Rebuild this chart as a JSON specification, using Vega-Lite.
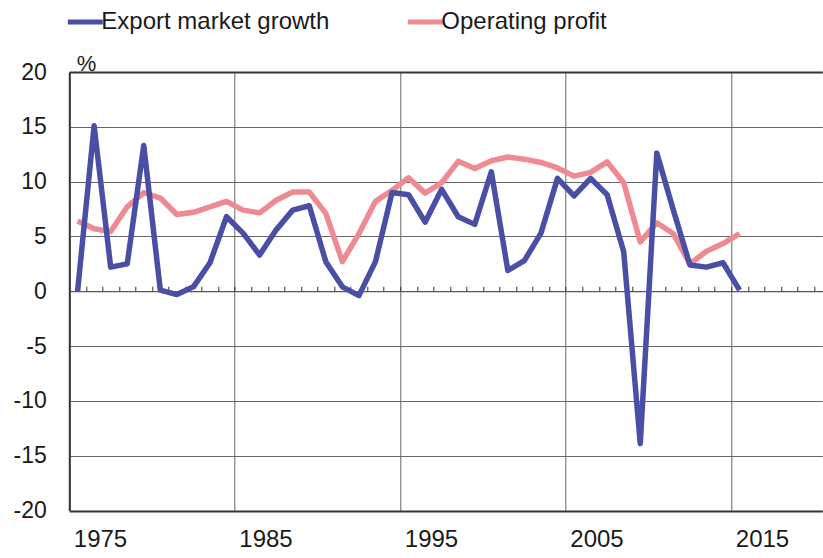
{
  "$schema": "https://vega.github.io/schema/vega-lite/v6.json",
  "width": 753,
  "height": 438.5,
  "autosize": "none",
  "padding": {"left": 69.3, "top": 72, "right": 0.7, "bottom": 47.5},
  "background": "white",
  "config": {"view": {"stroke": null}, "font": "Liberation Sans"},
  "data": {"values": [
    {"year":1974,"series":"Export market growth","value":0.0},
    {"year":1975,"series":"Export market growth","value":15.1},
    {"year":1976,"series":"Export market growth","value":2.2},
    {"year":1977,"series":"Export market growth","value":2.5},
    {"year":1978,"series":"Export market growth","value":13.3},
    {"year":1979,"series":"Export market growth","value":0.1},
    {"year":1980,"series":"Export market growth","value":-0.3},
    {"year":1981,"series":"Export market growth","value":0.4},
    {"year":1982,"series":"Export market growth","value":2.6},
    {"year":1983,"series":"Export market growth","value":6.8},
    {"year":1984,"series":"Export market growth","value":5.3},
    {"year":1985,"series":"Export market growth","value":3.3},
    {"year":1986,"series":"Export market growth","value":5.6},
    {"year":1987,"series":"Export market growth","value":7.4},
    {"year":1988,"series":"Export market growth","value":7.8},
    {"year":1989,"series":"Export market growth","value":2.7},
    {"year":1990,"series":"Export market growth","value":0.4},
    {"year":1991,"series":"Export market growth","value":-0.4},
    {"year":1992,"series":"Export market growth","value":2.7},
    {"year":1993,"series":"Export market growth","value":9.0},
    {"year":1994,"series":"Export market growth","value":8.8},
    {"year":1995,"series":"Export market growth","value":6.3},
    {"year":1996,"series":"Export market growth","value":9.3},
    {"year":1997,"series":"Export market growth","value":6.8},
    {"year":1998,"series":"Export market growth","value":6.1},
    {"year":1999,"series":"Export market growth","value":10.9},
    {"year":2000,"series":"Export market growth","value":1.9},
    {"year":2001,"series":"Export market growth","value":2.8},
    {"year":2002,"series":"Export market growth","value":5.3},
    {"year":2003,"series":"Export market growth","value":10.3},
    {"year":2004,"series":"Export market growth","value":8.7},
    {"year":2005,"series":"Export market growth","value":10.3},
    {"year":2006,"series":"Export market growth","value":8.8},
    {"year":2007,"series":"Export market growth","value":3.6},
    {"year":2008,"series":"Export market growth","value":-13.9},
    {"year":2009,"series":"Export market growth","value":12.6},
    {"year":2010,"series":"Export market growth","value":7.4},
    {"year":2011,"series":"Export market growth","value":2.4},
    {"year":2012,"series":"Export market growth","value":2.2},
    {"year":2013,"series":"Export market growth","value":2.6},
    {"year":2014,"series":"Export market growth","value":0.1},
    {"year":1974,"series":"Operating profit","value":6.4},
    {"year":1975,"series":"Operating profit","value":5.7},
    {"year":1976,"series":"Operating profit","value":5.45},
    {"year":1977,"series":"Operating profit","value":7.7},
    {"year":1978,"series":"Operating profit","value":9.0},
    {"year":1979,"series":"Operating profit","value":8.5},
    {"year":1980,"series":"Operating profit","value":7.0},
    {"year":1981,"series":"Operating profit","value":7.2},
    {"year":1982,"series":"Operating profit","value":7.7},
    {"year":1983,"series":"Operating profit","value":8.2},
    {"year":1984,"series":"Operating profit","value":7.4},
    {"year":1985,"series":"Operating profit","value":7.15},
    {"year":1986,"series":"Operating profit","value":8.3},
    {"year":1987,"series":"Operating profit","value":9.05},
    {"year":1988,"series":"Operating profit","value":9.05},
    {"year":1989,"series":"Operating profit","value":7.1},
    {"year":1990,"series":"Operating profit","value":2.7},
    {"year":1991,"series":"Operating profit","value":5.25},
    {"year":1992,"series":"Operating profit","value":8.2},
    {"year":1993,"series":"Operating profit","value":9.2},
    {"year":1994,"series":"Operating profit","value":10.35},
    {"year":1995,"series":"Operating profit","value":8.95},
    {"year":1996,"series":"Operating profit","value":9.9},
    {"year":1997,"series":"Operating profit","value":11.85},
    {"year":1998,"series":"Operating profit","value":11.2},
    {"year":1999,"series":"Operating profit","value":11.9},
    {"year":2000,"series":"Operating profit","value":12.25},
    {"year":2001,"series":"Operating profit","value":12.05},
    {"year":2002,"series":"Operating profit","value":11.75},
    {"year":2003,"series":"Operating profit","value":11.25},
    {"year":2004,"series":"Operating profit","value":10.5},
    {"year":2005,"series":"Operating profit","value":10.85},
    {"year":2006,"series":"Operating profit","value":11.8},
    {"year":2007,"series":"Operating profit","value":9.9},
    {"year":2008,"series":"Operating profit","value":4.5},
    {"year":2009,"series":"Operating profit","value":6.25},
    {"year":2010,"series":"Operating profit","value":5.25},
    {"year":2011,"series":"Operating profit","value":2.5},
    {"year":2012,"series":"Operating profit","value":3.65},
    {"year":2013,"series":"Operating profit","value":4.35},
    {"year":2014,"series":"Operating profit","value":5.25}
  ]},
  "encoding": {
    "y": {
      "field": "value", "type": "quantitative",
      "scale": {"domain": [-20, 20], "nice": false, "zero": false},
      "axis": {
        "values": [-20, -15, -10, -5, 0, 5, 10, 15, 20],
        "labelExpr": "'' + datum.value",
        "grid": true,
        "gridColor": {"condition": {"test": "abs(datum.value) == 20", "value": "#333333"}, "value": "#666666"},
        "gridWidth": {"condition": {"test": "abs(datum.value) == 20", "value": 2}, "value": 1},
        "domain": true, "domainColor": "#333333", "domainWidth": 2,
        "ticks": false, "tickSize": 0,
        "labelPadding": 23, "labelFontSize": 23, "labelColor": "#1a1a1a",
        "title": "%", "titleAngle": 0, "titleAlign": "left", "titleBaseline": "alphabetic",
        "titleX": 7, "titleY": -2, "titleFontSize": 22, "titleFontWeight": "normal", "titleColor": "#1a1a1a"
      }
    },
    "color": {
      "field": "series", "type": "nominal",
      "scale": {"domain": ["Export market growth", "Operating profit"], "range": ["#4a4fa6", "#ef8a92"]},
      "legend": {
        "orient": "none", "legendX": -4, "legendY": -70, "direction": "horizontal",
        "title": null, "symbolType": "stroke", "symbolSize": 1225, "symbolStrokeWidth": 5,
        "labelFontSize": 24, "labelOffset": -4, "columnPadding": 67, "padding": 0,
        "labelLimit": 0, "labelColor": "#1a1a1a"
      }
    }
  },
  "layer": [
    {
      "transform": [{"filter": "datum.series == 'Operating profit'"}],
      "mark": {"type": "line", "strokeWidth": 5.5, "strokeJoin": "round"},
      "encoding": {
        "x": {
          "field": "year", "type": "quantitative",
          "scale": {"domain": [1973.5, 2019], "nice": false, "zero": false},
          "axis": {
            "orient": "top", "offset": -219.25, "title": null,
            "values": [1974.5,1975.5,1976.5,1977.5,1978.5,1979.5,1980.5,1981.5,1982.5,1983.5,1984.5,1985.5,1986.5,1987.5,1988.5,1989.5,1990.5,1991.5,1992.5,1993.5,1994.5,1995.5,1996.5,1997.5,1998.5,1999.5,2000.5,2001.5,2002.5,2003.5,2004.5,2005.5,2006.5,2007.5,2008.5,2009.5,2010.5,2011.5,2012.5,2013.5,2014.5,2015.5,2016.5,2017.5,2018.5],
            "labels": false, "grid": false,
            "domain": true, "domainColor": "#555555", "domainWidth": 1,
            "ticks": true, "tickSize": 5, "tickColor": "#333333", "tickWidth": 1
          }
        }
      }
    },
    {
      "transform": [{"filter": "datum.series == 'Export market growth'"}],
      "mark": {"type": "line", "strokeWidth": 5.5, "strokeJoin": "round"},
      "encoding": {
        "x": {
          "field": "year", "type": "quantitative",
          "scale": {"domain": [1973.5, 2019], "nice": false, "zero": false},
          "axis": {
            "orient": "bottom", "title": null,
            "values": [1973.5, 1983.5, 1993.5, 2003.5, 2013.5],
            "labelExpr": "'' + (datum.value + 1.5)",
            "labelAlign": "left", "labelOffset": 4, "labelPadding": 17, "labelBaseline": "top",
            "labelFontSize": 24, "labelColor": "#1a1a1a",
            "grid": true, "gridColor": "#666666", "gridWidth": 1,
            "domain": false, "ticks": false, "tickSize": 0
          }
        }
      }
    }
  ],
  "resolve": {"axis": {"x": "independent"}}
}
